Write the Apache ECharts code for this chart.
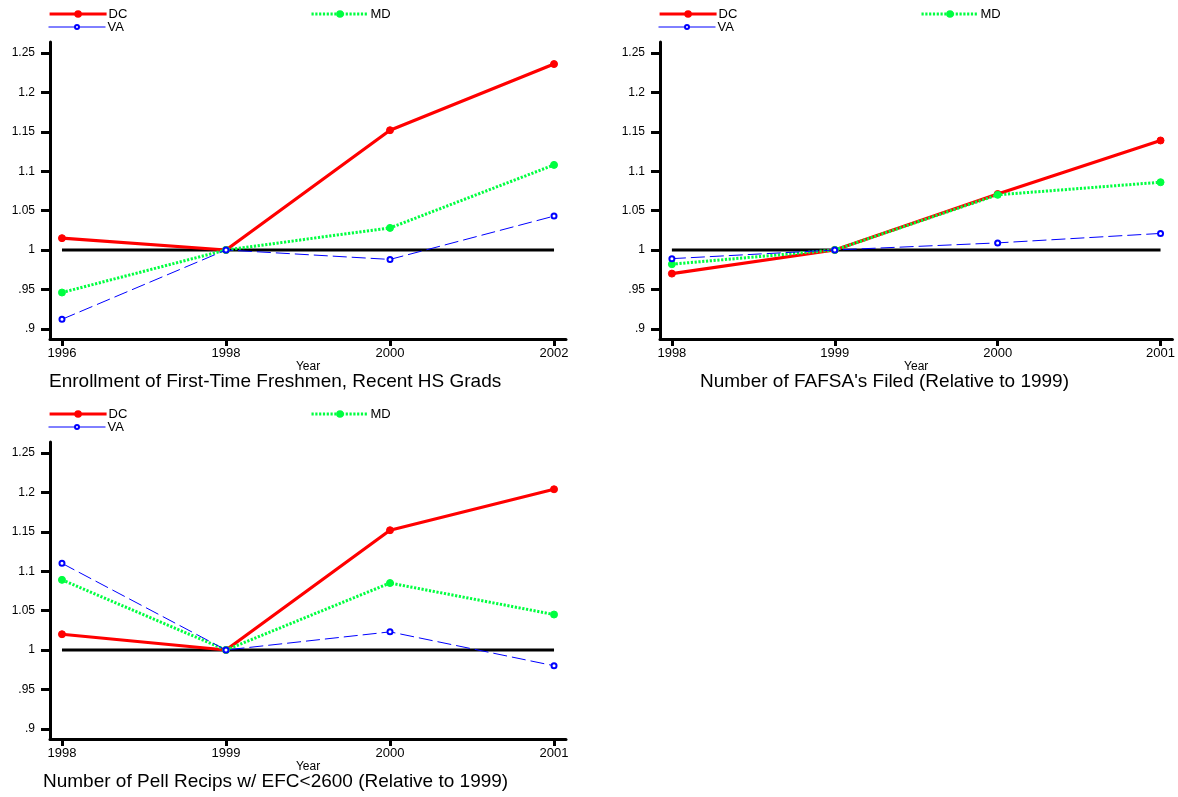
<!DOCTYPE html>
<html>
<head>
<meta charset="utf-8">
<script src="https://cdn.jsdelivr.net/npm/echarts@6/dist/echarts.min.js"></script>
<style>
html,body{margin:0;padding:0;background:#fff;}
#chart{width:1178px;height:797px;}
</style>
</head>
<body>
<div id="chart"></div>
<script>
// ---- data ----
const years1 = [1996, 1998, 2000, 2002];
const years23 = [1998, 1999, 2000, 2001];
const yTicks = [0.9, 0.95, 1, 1.05, 1.1, 1.15, 1.2, 1.25];
const seriesNames = ['DC', 'MD', 'VA'];
const panelTitles = [
  'Enrollment of First-Time Freshmen, Recent HS Grads',
  "Number of FAFSA's Filed (Relative to 1999)",
  'Number of Pell Recips w/ EFC<2600 (Relative to 1999)'
];
const enrollDC = [1.015, 1.0, 1.152, 1.236];
const enrollMD = [0.946, 1.0, 1.028, 1.108];
const enrollVA = [0.912, 1.0, 0.988, 1.043];
const fafsaDC = [0.970, 1.0, 1.071, 1.139];
const fafsaMD = [0.982, 1.0, 1.070, 1.086];
const fafsaVA = [0.989, 1.0, 1.009, 1.021];
const pellDC = [1.020, 1.0, 1.152, 1.204];
const pellMD = [1.089, 1.0, 1.085, 1.045];
const pellVA = [1.110, 1.0, 1.023, 0.980];
const refValue = 1;

// ---- layout / styles ----
const FONT = 'Liberation Sans, Arial, Helvetica, sans-serif';
const panels = [
  {years: years1, data: [enrollDC, enrollMD, enrollVA], left: 50, top: 42, pad: 0.146, titleX: 49},
  {years: years23, data: [fafsaDC, fafsaMD, fafsaVA], left: 660, top: 42, pad: 0.073, titleX: 700},
  {years: years23, data: [pellDC, pellMD, pellVA], left: 50, top: 442, pad: 0.073, titleX: 43}
];
const styles = {
  DC: {color: '#ff0000', lineStyle: {color: '#ff0000', width: 3.2, type: 'solid'}, symbol: 'circle', symbolSize: 7},
  MD: {color: '#00ff40', lineStyle: {color: '#00ff40', width: 3, type: [2.2, 1.6]}, symbol: 'circle', symbolSize: 7},
  VA: {color: '#0000ff', lineStyle: {color: '#0000ff', width: 1, type: [14, 5]}, symbol: 'emptyCircle', symbolSize: 5}
};

const grid = [], xAxis = [], yAxis = [], series = [], legend = [], title = [];
const fmtY = v => String(Math.round(v * 100) / 100).replace(/^0\./, '.');

panels.forEach((p, i) => {
  grid.push({left: p.left, top: p.top, width: 516, height: 297});
  const ys = p.years;
  xAxis.push({
    type: 'value', gridIndex: i,
    min: ys[0] - p.pad, max: ys[ys.length - 1] + p.pad,
    splitLine: {show: false},
    axisLine: {show: true, lineStyle: {color: '#000', width: 3}},
    axisTick: {show: true, customValues: ys, length: 7, lineStyle: {color: '#000', width: 3}},
    axisLabel: {customValues: ys, margin: 8, color: '#000', fontSize: 13, fontFamily: FONT, formatter: v => String(v)},
    name: 'Year', nameLocation: 'middle', nameGap: 21,
    nameTextStyle: {color: '#000', fontSize: 12, fontFamily: FONT}
  });
  yAxis.push({
    type: 'value', gridIndex: i, min: 0.887, max: 1.264,
    splitLine: {show: false},
    axisLine: {show: true, lineStyle: {color: '#000', width: 3}},
    axisTick: {show: true, customValues: yTicks, length: 9, lineStyle: {color: '#000', width: 3}},
    axisLabel: {customValues: yTicks, margin: 15, color: '#000', fontSize: 12, fontFamily: FONT, formatter: fmtY}
  });
  // reference line at 1
  series.push({
    type: 'line', xAxisIndex: i, yAxisIndex: i, silent: true, symbol: 'none',
    data: [[ys[0], refValue], [ys[ys.length - 1], refValue]],
    lineStyle: {color: '#000', width: 3}, z: 1
  });
  seriesNames.forEach((n, k) => {
    const s = styles[n];
    series.push({
      type: 'line', name: n, xAxisIndex: i, yAxisIndex: i,
      data: ys.map((y, j) => [y, p.data[k][j]]),
      symbol: s.symbol, symbolSize: s.symbolSize,
      itemStyle: {color: s.color, borderColor: s.color, borderWidth: 1},
      lineStyle: s.lineStyle, z: 2 + k, animation: false
    });
  });
  const lx = p.left - 2;
  const row1 = p.top - 31, row2 = p.top - 19;
  const legBase = {orient: 'horizontal', padding: 0, itemWidth: 57, itemGap: 5,
    textStyle: {color: '#000', fontSize: 13, fontFamily: FONT, padding: [0, 0, 0, -3]}, selectedMode: false};
  legend.push(Object.assign({}, legBase, {data: ['DC'], left: lx, top: row1 - 3.5, itemHeight: 7,
    lineStyle: {width: 3.2}}));
  legend.push(Object.assign({}, legBase, {data: ['MD'], left: lx + 262, top: row1 - 3.5, itemHeight: 7,
    lineStyle: {width: 3}}));
  legend.push(Object.assign({}, legBase, {data: ['VA'], left: lx, top: row2 - 2.5, itemHeight: 5,
    lineStyle: {type: 'solid', width: 1}}));
  title.push({text: panelTitles[i], left: p.titleX, top: p.top + 330, padding: 0,
    textStyle: {color: '#000', fontSize: 19, fontWeight: 'normal', fontFamily: FONT}});
});

const chart = echarts.init(document.getElementById('chart'), null, {renderer: 'canvas'});
chart.setOption({
  animation: false,
  backgroundColor: '#fff',
  title, legend, grid, xAxis, yAxis, series
});
</script>
</body>
</html>
